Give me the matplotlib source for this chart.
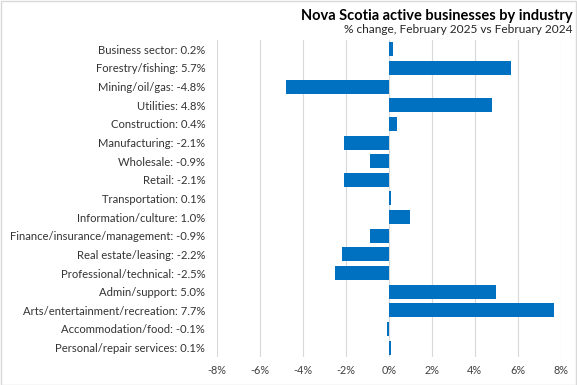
import matplotlib
matplotlib.use("Agg")
import matplotlib.pyplot as plt
from matplotlib.patches import Rectangle

categories = ["Business sector", "Forestry/fishing", "Mining/oil/gas", "Utilities",
              "Construction", "Manufacturing", "Wholesale", "Retail", "Transportation",
              "Information/culture", "Finance/insurance/management", "Real estate/leasing",
              "Professional/technical", "Admin/support", "Arts/entertainment/recreation",
              "Accommodation/food", "Personal/repair services"]
values = [0.2, 5.7, -4.8, 4.8, 0.4, -2.1, -0.9, -2.1, 0.1, 1.0, -0.9, -2.2, -2.5, 5.0, 7.7, -0.1, 0.1]
xticks = [-8, -6, -4, -2, 0, 2, 4, 6, 8]

plt.rcParams['font.family'] = ['Lato', 'DejaVu Sans']

fig = plt.figure(figsize=(5.77, 3.85), dpi=100)
ax = fig.add_axes([0.376, 0.073, 0.596, 0.823])

y = list(range(len(categories)))
ax.barh(y, values, height=0.75, color="#0070C0", zorder=3)
ax.set_ylim(len(categories) - 0.5, -0.5)
ax.set_xlim(-8, 8)
ax.set_xticks(xticks)
ax.set_xticklabels([f"{t}%" for t in xticks], fontsize=7.8, color="#404040")
ax.set_yticks(y)
ax.set_yticklabels([f"{c}: {v:.1f}%" for c, v in zip(categories, values)],
                   fontsize=8.1, color="#333333")
ax.tick_params(axis='y', length=0, pad=8.5)
ax.tick_params(axis='x', length=0, pad=6)
ax.grid(axis='x', color="#d9d9d9", linewidth=0.8, zorder=0)
for s in ax.spines.values():
    s.set_visible(False)

fig.text(0.993, 0.947, "Nova Scotia active businesses by industry", ha='right', va='baseline',
         fontsize=10.5, fontweight='bold', color="#000000")
fig.text(0.993, 0.913, "% change, February 2025 vs February 2024", ha='right', va='baseline',
         fontsize=8.6, color="#262626")

fig.patches.append(Rectangle((0.001, 0.001), 0.997, 0.997, transform=fig.transFigure,
                             fill=False, edgecolor="#d9d9d9", linewidth=1))

fig.savefig("out.png", dpi=100)
